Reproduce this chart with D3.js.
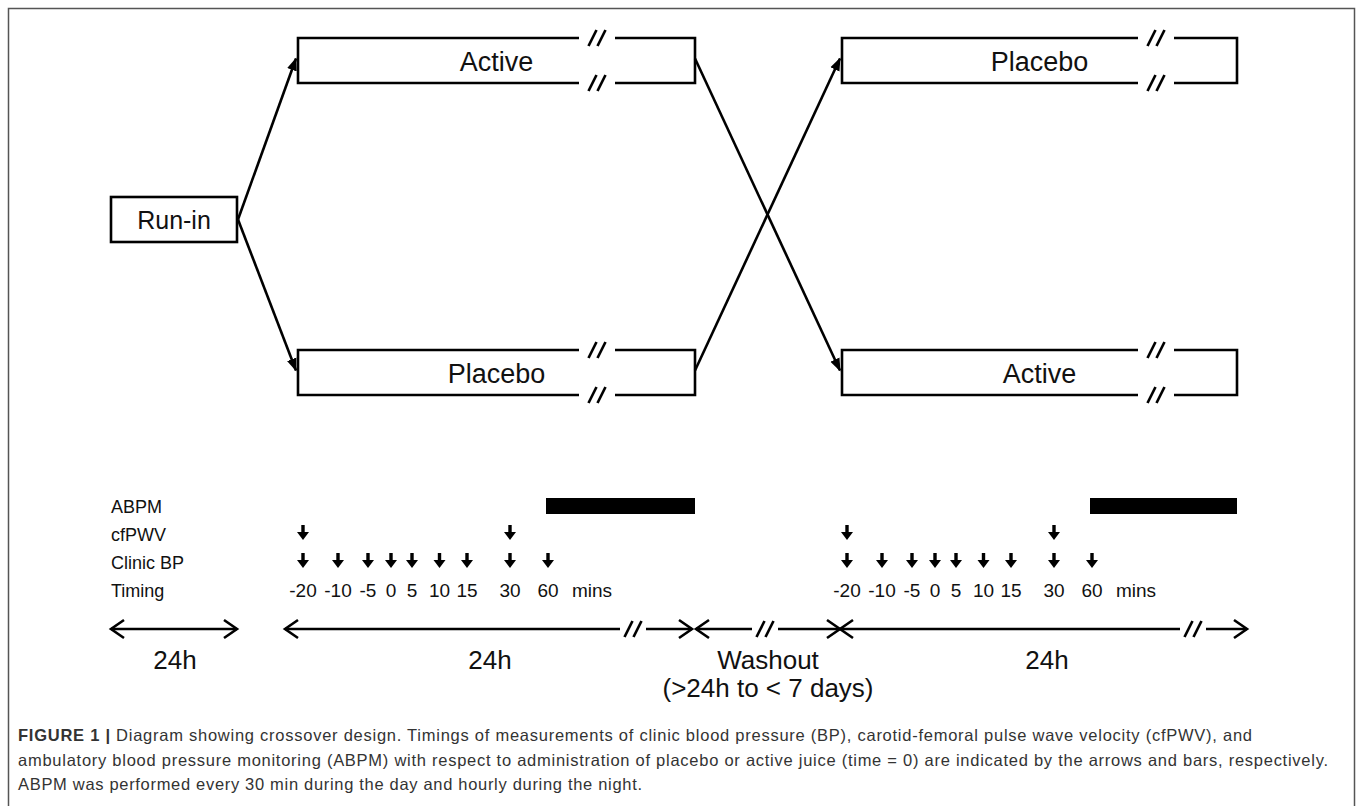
<!DOCTYPE html>
<html>
<head>
<meta charset="utf-8">
<script src="https://cdn.jsdelivr.net/npm/d3@7"></script>
<style>
  body { margin: 0; background: #fff; }
  text { font-family: "Liberation Sans", Arial, sans-serif; fill: #111; }
  .caption { font-family: "Liberation Sans", Arial, sans-serif; fill: #333; }
</style>
</head>
<body>
<div id="chart"></div>
<script>
// Data
var rowLabels = ["ABPM", "cfPWV", "Clinic BP", "Timing"];
var clinicTimes = [-20, -10, -5, 0, 5, 10, 15, 30, 60];
var pwvTimes = [-20, 30];
var abpmStart = 60;
var period1Arms = ["Active", "Placebo"];
var period2Arms = ["Placebo", "Active"];
var durationLabels = ["24h", "24h", "Washout", "24h"];
var washoutNote = "(>24h to < 7 days)";
var captionBold = "FIGURE 1 | ";
var captionLines = [
  "Diagram showing crossover design. Timings of measurements of clinic blood pressure (BP), carotid-femoral pulse wave velocity (cfPWV), and",
  "ambulatory blood pressure monitoring (ABPM) with respect to administration of placebo or active juice (time = 0) are indicated by the arrows and bars, respectively.",
  "ABPM was performed every 30 min during the day and hourly during the night."
];

var width = 1358;
var height = 806;

var svg = d3
  .select("#chart")
  .append("svg")
  .attr("width", width)
  .attr("height", height);

// outer frame
svg
  .append("rect")
  .attr("x", 8.5)
  .attr("y", 8.5)
  .attr("width", 1346)
  .attr("height", 820)
  .attr("fill", "none")
  .attr("stroke", "#555")
  .attr("stroke-width", 1.5);

// layout
var period_x = [298, 842];
var box_w = [397, 395];
var gap_from_right = [80, 63];
var gap_w = 36;
var box_h = 45;
var arm_y = d3.scalePoint().domain([0, 1]).range([38, 350]);
var run_in = { x: 111, y: 197, w: 126, h: 45 };

// minutes -> offset inside a period (the drawing is not to scale)
var t_scale = d3
  .scaleLinear()
  .domain([-20, -10, -5, 0, 5, 15, 30, 60])
  .range([0, 35, 65, 88, 109, 164, 207, 245]);
function timeX(p, t) {
  return period_x[p] + 5 + t_scale(t);
}

var y_scale = d3.scalePoint().domain(rowLabels).range([506, 590]);

var stroke_w = 2.6;

// arrowhead marker
svg
  .append("defs")
  .append("marker")
  .attr("id", "head")
  .attr("viewBox", "-12 -6 14 12")
  .attr("refX", 0)
  .attr("refY", 0)
  .attr("markerWidth", 14)
  .attr("markerHeight", 12)
  .attr("markerUnits", "userSpaceOnUse")
  .attr("orient", "auto")
  .append("path")
  .attr("d", "M-12,-5L1,0L-12,5Z")
  .attr("fill", "#000");

function slashes(g, cx, cy) {
  [-4.5, 4.5].forEach(function(d) {
    g.append("line")
      .attr("x1", cx + d - 4)
      .attr("y1", cy + 8)
      .attr("x2", cx + d + 4)
      .attr("y2", cy - 8)
      .attr("stroke", "#000")
      .attr("stroke-width", stroke_w);
  });
}

// Run-in box
svg
  .append("rect")
  .attr("x", run_in.x)
  .attr("y", run_in.y)
  .attr("width", run_in.w)
  .attr("height", run_in.h)
  .attr("fill", "none")
  .attr("stroke", "#000")
  .attr("stroke-width", stroke_w);
svg
  .append("text")
  .attr("x", run_in.x + run_in.w / 2)
  .attr("y", run_in.y + run_in.h / 2 + 9)
  .attr("text-anchor", "middle")
  .attr("font-size", 25)
  .text("Run-in");

// treatment boxes
var boxes = [];
period1Arms.forEach(function(a, i) { boxes.push({ p: 0, arm: i, label: a }); });
period2Arms.forEach(function(a, i) { boxes.push({ p: 1, arm: i, label: a }); });

boxes.forEach(function(b) {
  var x0 = period_x[b.p];
  var x1 = x0 + box_w[b.p];
  var y0 = arm_y(b.arm);
  var y1 = y0 + box_h;
  var g1 = x1 - gap_from_right[b.p];
  var g0 = g1 - gap_w;
  var g = svg.append("g");
  g.append("path")
    .attr("d",
      "M" + g0 + "," + y0 + "L" + x0 + "," + y0 + "L" + x0 + "," + y1 + "L" + g0 + "," + y1 +
      "M" + g1 + "," + y0 + "L" + x1 + "," + y0 + "L" + x1 + "," + y1 + "L" + g1 + "," + y1)
    .attr("fill", "none")
    .attr("stroke", "#000")
    .attr("stroke-width", stroke_w);
  slashes(g, (g0 + g1) / 2, y0);
  slashes(g, (g0 + g1) / 2, y1);
  g.append("text")
    .attr("x", (x0 + x1) / 2)
    .attr("y", y0 + box_h / 2 + 10)
    .attr("text-anchor", "middle")
    .attr("font-size", 27)
    .text(b.label);
});

// connecting arrows
function arrow(xa, ya, xb, yb) {
  svg
    .append("line")
    .attr("x1", xa)
    .attr("y1", ya)
    .attr("x2", xb)
    .attr("y2", yb)
    .attr("stroke", "#000")
    .attr("stroke-width", stroke_w)
    .attr("marker-end", "url(#head)");
}
var mid = function(arm) { return arm_y(arm) + box_h / 2 - 2; };
arrow(run_in.x + run_in.w + 1, run_in.y + run_in.h / 2, period_x[0] - 2, mid(0));
arrow(run_in.x + run_in.w + 1, run_in.y + run_in.h / 2, period_x[0] - 2, mid(1));
arrow(period_x[0] + box_w[0], mid(0), period_x[1] - 2, mid(1));
arrow(period_x[0] + box_w[0], mid(1), period_x[1] - 2, mid(0));

// row labels
svg
  .selectAll(".row-label")
  .data(rowLabels)
  .enter()
  .append("text")
  .attr("class", "row-label")
  .attr("x", 111)
  .attr("y", function(d) { return y_scale(d) + 7; })
  .attr("font-size", 18)
  .text(function(d) { return d; });

// down arrows
function downArrow(x, y) {
  svg
    .append("path")
    .attr("d",
      "M" + (x - 1.7) + "," + (y - 8) + "L" + (x + 1.7) + "," + (y - 8) +
      "L" + (x + 1.7) + "," + (y - 1) + "L" + (x + 6) + "," + (y - 1) +
      "L" + x + "," + (y + 7) + "L" + (x - 6) + "," + (y - 1) +
      "L" + (x - 1.7) + "," + (y - 1) + "Z")
    .attr("fill", "#000");
}

[0, 1].forEach(function(p) {
  // ABPM bar
  svg
    .append("rect")
    .attr("x", timeX(p, abpmStart) - 2)
    .attr("y", y_scale("ABPM") - 8)
    .attr("width", period_x[p] + box_w[p] - timeX(p, abpmStart) + 2)
    .attr("height", 16)
    .attr("fill", "#000");

  pwvTimes.forEach(function(t) { downArrow(timeX(p, t), y_scale("cfPWV") - 1); });
  clinicTimes.forEach(function(t) { downArrow(timeX(p, t), y_scale("Clinic BP") - 1); });

  svg
    .selectAll(".tick-p" + p)
    .data(clinicTimes)
    .enter()
    .append("text")
    .attr("class", "tick-p" + p)
    .attr("x", function(d) { return timeX(p, d); })
    .attr("y", y_scale("Timing") + 7)
    .attr("text-anchor", "middle")
    .attr("font-size", 19)
    .text(function(d) { return d; });
  svg
    .append("text")
    .attr("x", timeX(p, 60) + 24)
    .attr("y", y_scale("Timing") + 7)
    .attr("font-size", 19)
    .text("mins");
});

// bottom duration arrows
var line_y = 629;
function chevron(x, dir) {
  svg
    .append("path")
    .attr("d",
      "M" + (x - dir * 13) + "," + (line_y - 9) + "L" + x + "," + line_y +
      "L" + (x - dir * 13) + "," + (line_y + 9))
    .attr("fill", "none")
    .attr("stroke", "#000")
    .attr("stroke-width", stroke_w);
}
var spans = [
  { x0: run_in.x, x1: run_in.x + run_in.w, brk: null },
  { x0: timeX(0, -20) - 18, x1: period_x[0] + box_w[0] - 3, brk: period_x[0] + box_w[0] - 62 },
  { x0: period_x[0] + box_w[0] + 1, x1: period_x[1] - 2, brk: 765 },
  { x0: period_x[1] - 2, x1: period_x[1] + box_w[1] + 10, brk: period_x[1] + box_w[1] - 44 }
];
spans.forEach(function(s) {
  var segs = s.brk === null ? [[s.x0, s.x1]] : [[s.x0, s.brk - 13], [s.brk + 13, s.x1]];
  segs.forEach(function(sg) {
    svg
      .append("line")
      .attr("x1", sg[0])
      .attr("y1", line_y)
      .attr("x2", sg[1])
      .attr("y2", line_y)
      .attr("stroke", "#000")
      .attr("stroke-width", stroke_w);
  });
  if (s.brk !== null) slashes(svg, s.brk, line_y);
  chevron(s.x0, -1);
  chevron(s.x1, 1);
});

var label_x = [175, 490, 768, 1047];
svg
  .selectAll(".dur")
  .data(durationLabels)
  .enter()
  .append("text")
  .attr("class", "dur")
  .attr("x", function(d, i) { return label_x[i]; })
  .attr("y", 669)
  .attr("text-anchor", "middle")
  .attr("font-size", 26)
  .text(function(d) { return d; });
svg
  .append("text")
  .attr("x", label_x[2])
  .attr("y", 697)
  .attr("text-anchor", "middle")
  .attr("font-size", 26)
  .text(washoutNote);

// caption
var cap_len = [1234, 1310, 624];
captionLines.forEach(function(line, i) {
  var t = svg
    .append("text")
    .attr("class", "caption")
    .attr("x", 18)
    .attr("y", 741 + i * 24.5)
    .attr("font-size", 16.5)
    .attr("textLength", cap_len[i])
    .attr("lengthAdjust", "spacing");
  if (i === 0) {
    t.append("tspan").attr("font-weight", "bold").text(captionBold);
  }
  t.append("tspan").text(line);
});
</script>
</body>
</html>
